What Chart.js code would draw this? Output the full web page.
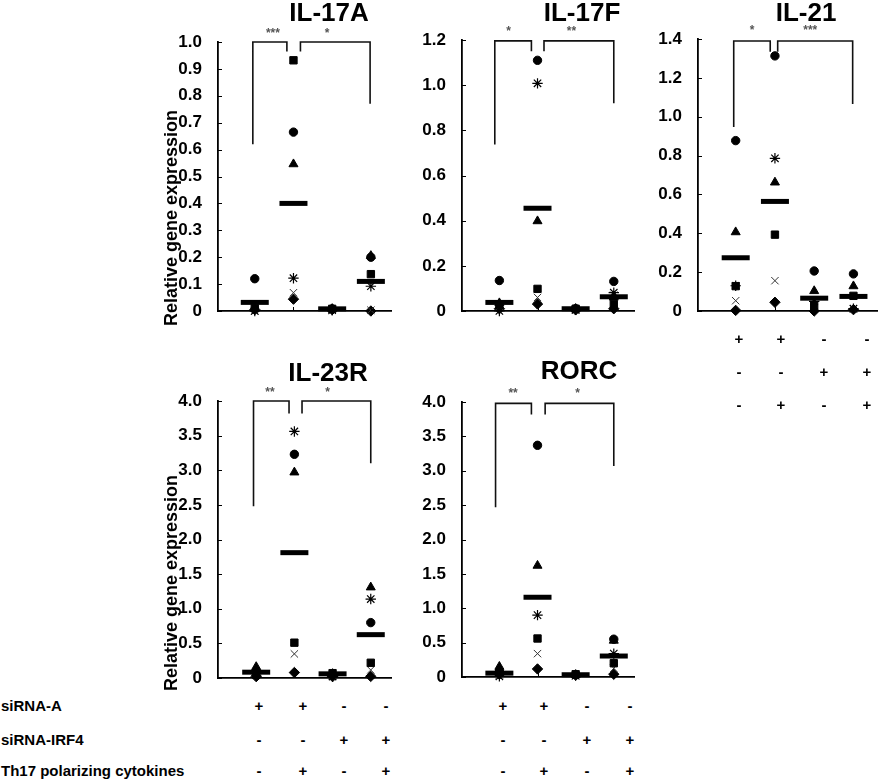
<!DOCTYPE html>
<html>
<head>
<meta charset="utf-8">
<script src="https://cdn.jsdelivr.net/npm/chart.js@4.4.1/dist/chart.umd.min.js"></script>
<style>
  html, body { margin:0; padding:0; background:#fff; }
  body { width:896px; height:783px; position:relative; overflow:hidden; font-family:'Liberation Sans', Arial, sans-serif; }
  canvas { position:absolute; }
  .lbl { position:absolute; font-weight:bold; font-size:15px; color:#000; white-space:nowrap; line-height:1; }
  .sgn { position:absolute; font-weight:bold; font-size:15px; color:#000; width:20px; text-align:center; line-height:1; }
</style>
</head>
<body>
<script>
// ---------- data ----------
const groups = [1, 2, 3, 4];

const IL17A_circle   = [0.12, 0.665, 0.008, 0.20];
const IL17A_square   = [0.01, 0.932, 0.008, 0.137];
const IL17A_triangle = [0.01, 0.546, 0.008, 0.205];
const IL17A_star     = [0.0, 0.122, 0.003, 0.092];
const IL17A_cross    = [0.0, 0.068, 0.003, 0.003];
const IL17A_diamond  = [0.005, 0.044, 0.005, 0.0];
const IL17A_mean     = [0.032, 0.40, 0.008, 0.11];

const IL17F_circle   = [0.135, 1.11, 0.01, 0.131];
const IL17F_square   = [0.03, 0.098, 0.01, 0.031];
const IL17F_triangle = [0.035, 0.398, 0.01, 0.06];
const IL17F_star     = [0.0, 1.008, 0.005, 0.081];
const IL17F_cross    = [0.02, 0.06, 0.005, 0.07];
const IL17F_diamond  = [0.01, 0.031, 0.005, 0.01];
const IL17F_mean     = [0.038, 0.455, 0.01, 0.063];

const IL21_circle   = [0.877, 1.313, 0.206, 0.191];
const IL21_square   = [0.128, 0.393, 0.028, 0.078];
const IL21_triangle = [0.406, 0.662, 0.103, 0.128];
const IL21_star     = [0.13, 0.786, 0.05, 0.012];
const IL21_cross    = [0.053, 0.156, 0.03, 0.012];
const IL21_diamond  = [0.003, 0.045, 0.0, 0.007];
const IL21_mean     = [0.274, 0.564, 0.066, 0.075];

const IL23R_circle   = [0.10, 3.23, 0.05, 0.80];
const IL23R_square   = [0.06, 0.51, 0.07, 0.22];
const IL23R_triangle = [0.16, 2.97, 0.06, 1.31];
const IL23R_star     = [0.04, 3.56, 0.02, 1.14];
const IL23R_cross    = [0.05, 0.348, 0.03, 0.116];
const IL23R_diamond  = [0.02, 0.079, 0.02, 0.023];
const IL23R_mean     = [0.084, 1.81, 0.06, 0.626];

const RORC_circle   = [0.08, 3.37, 0.03, 0.55];
const RORC_square   = [0.06, 0.56, 0.04, 0.20];
const RORC_triangle = [0.15, 1.62, 0.03, 0.53];
const RORC_star     = [0.01, 0.90, 0.02, 0.34];
const RORC_cross    = [0.03, 0.34, 0.02, 0.127];
const RORC_diamond  = [0.04, 0.117, 0.03, 0.04];
const RORC_mean     = [0.056, 1.16, 0.033, 0.305];

// significance brackets (data coordinates)
const IL17A_brL = { x:[0.95,0.95,1.83,1.83], y:[0.62,1.0,1.0,0.965] };
const IL17A_brR = { x:[2.18,2.18,3.98,3.98], y:[0.965,1.0,1.0,0.77] };
const IL17A_sig = { x:[1.47, 2.87], text:['***','*'] };

const IL17F_brL = { x:[0.88,0.88,1.84,1.84], y:[0.737,1.196,1.196,1.15] };
const IL17F_brR = { x:[2.17,2.17,4.0,4.0], y:[1.15,1.196,1.196,0.92] };
const IL17F_sig = { x:[1.24, 2.89], text:['*','**'] };

const IL21_brL = { x:[0.95,0.95,1.88,1.88], y:[0.947,1.39,1.39,1.335] };
const IL21_brR = { x:[2.07,2.07,3.98,3.98], y:[1.335,1.39,1.39,1.066] };
const IL21_sig = { x:[1.42, 2.9], text:['*','***'] };

const IL23R_brL = { x:[0.93,0.93,1.86,1.86], y:[2.48,4.0,4.0,3.82] };
const IL23R_brR = { x:[2.2,2.2,4.0,4.0], y:[3.82,4.0,4.0,3.1] };
const IL23R_sig = { x:[1.36, 2.87], text:['**','*'] };

const RORC_brL = { x:[0.9,0.9,1.84,1.84], y:[2.47,3.98,3.98,3.82] };
const RORC_brR = { x:[2.2,2.2,4.0,4.0], y:[3.82,3.98,3.98,3.07] };
const RORC_sig = { x:[1.36, 3.05], text:['**','*'] };

// condition table
const rowLabels = ['siRNA-A', 'siRNA-IRF4', 'Th17 polarizing cytokines'];
const siRNA_A    = ['+', '+', '-', '-'];
const siRNA_IRF4 = ['-', '-', '+', '+'];
const Th17_cyt   = ['-', '+', '-', '+'];

// ---------- layout ----------
const FONT = "'Liberation Sans', Arial, sans-serif";
const panels = [
  { title:'IL-17A', d:[IL17A_circle,IL17A_square,IL17A_triangle,IL17A_star,IL17A_cross,IL17A_diamond,IL17A_mean], brL:IL17A_brL, brR:IL17A_brR, sig:IL17A_sig,
    yMax:1.0, step:0.1, xMin:0.05, xMax:4.52, L:218, R:407, T:42, B:320, top:0, titleX:329, titleY:14, ytitle:{x:172,y:218} },
  { title:'IL-17F', d:[IL17F_circle,IL17F_square,IL17F_triangle,IL17F_star,IL17F_cross,IL17F_diamond,IL17F_mean], brL:IL17F_brL, brR:IL17F_brR, sig:IL17F_sig,
    yMax:1.2, step:0.2, xMin:0.02, xMax:4.53, L:462, R:650, T:40, B:320, top:0, titleX:582, titleY:14 },
  { title:'IL-21', d:[IL21_circle,IL21_square,IL21_triangle,IL21_star,IL21_cross,IL21_diamond,IL21_mean], brL:IL21_brL, brR:IL21_brR, sig:IL21_sig,
    yMax:1.4, step:0.2, xMin:0.04, xMax:4.6, L:698, R:893, T:39, B:320, top:0, titleX:806, titleY:14 },
  { title:'IL-23R', d:[IL23R_circle,IL23R_square,IL23R_triangle,IL23R_star,IL23R_cross,IL23R_diamond,IL23R_mean], brL:IL23R_brL, brR:IL23R_brR, sig:IL23R_sig,
    yMax:4.0, step:0.5, xMin:0.0, xMax:4.53, L:218, R:407, T:401, B:687, top:340, titleX:328, titleY:374, ytitle:{x:172,y:583} },
  { title:'RORC', d:[RORC_circle,RORC_square,RORC_triangle,RORC_star,RORC_cross,RORC_diamond,RORC_mean], brL:RORC_brL, brR:RORC_brR, sig:RORC_sig,
    yMax:4.0, step:0.5, xMin:0.02, xMax:4.53, L:462, R:650, T:402, B:686, top:340, titleX:579, titleY:372 }
];

const markerStyles = [
  { pointStyle:'circle',   radius:4.2, fill:'#000', border:'#000', bw:1 },
  { pointStyle:'rect',     radius:5.2, fill:'#000', border:'#000', bw:1 },
  { pointStyle:'triangle', radius:5.2, fill:'#000', border:'#000', bw:1 },
  { pointStyle:'star',     radius:5.2, fill:'#000', border:'#000', bw:1.2 },
  { pointStyle:'crossRot', radius:5.2, fill:'#333', border:'#333', bw:1 },
  { pointStyle:'rectRot',  radius:5.2, fill:'#000', border:'#000', bw:1 }
];

const YW = 60;
panels.forEach((p, idx) => {
  const cLeft = p.L - YW;
  const cTop = p.top;
  const cW = p.R + 3 - cLeft;
  const cH = p.B + 10 - cTop;
  const cv = document.createElement('canvas');
  cv.width = cW; cv.height = cH;
  cv.style.left = cLeft + 'px'; cv.style.top = cTop + 'px';
  cv.style.width = cW + 'px'; cv.style.height = cH + 'px';
  document.body.appendChild(cv);

  const ds = [];
  // mean bars first so they draw on top
  ds.push({ type:'scatter', data: groups.map((g,i)=>({x:g, y:p.d[6][i]})),
    pointStyle:'line', pointRadius:14, pointBorderWidth:5, pointBorderColor:'#000', pointBackgroundColor:'#000', showLine:false, clip:false });
  markerStyles.forEach((m, k) => {
    ds.push({ type:'scatter', data: groups.map((g,i)=>({x:g, y:p.d[k][i]})),
      pointStyle:m.pointStyle, pointRadius:m.radius, pointBackgroundColor:m.fill, pointBorderColor:m.border,
      pointBorderWidth:m.bw, showLine:false, clip:false });
  });
  [p.brL, p.brR].forEach(br => {
    ds.push({ type:'scatter', data: br.x.map((x,i)=>({x:x, y:br.y[i]})), showLine:true,
      borderColor:'#111', borderWidth:1.6, pointRadius:0, fill:false, clip:false, tension:0 });
  });

  const deco = {
    id:'deco'+idx,
    afterDraw(chart) {
      const ctx = chart.ctx;
      const xs = chart.scales.x, ys = chart.scales.y;
      const ca = chart.chartArea;
      ctx.save();
      // inward tick marks
      ctx.strokeStyle = '#000';
      ctx.lineWidth = 1;
      ctx.beginPath();
      ys.ticks.forEach(t => {
        const py = Math.round(ys.getPixelForValue(t.value)) + 0.5;
        ctx.moveTo(ca.left, py); ctx.lineTo(ca.left + 4, py);
      });
      groups.forEach(g => {
        const px = Math.round(xs.getPixelForValue(g)) + 0.5;
        ctx.moveTo(px, ca.bottom); ctx.lineTo(px, ca.bottom - 4);
      });
      ctx.stroke();

      ctx.fillStyle = '#000';
      ctx.textAlign = 'center';
      ctx.textBaseline = 'middle';
      ctx.font = 'bold 26px ' + FONT;
      ctx.fillText(p.title, p.titleX - cLeft, p.titleY - cTop);
      // significance labels
      ctx.fillStyle = '#555';
      ctx.font = 'bold 12px ' + FONT;
      p.sig.text.forEach((t,i) => {
        ctx.fillText(t, xs.getPixelForValue(p.sig.x[i]), ys.getPixelForValue(p.yMax) - 8);
      });
      if (p.ytitle) {
        ctx.fillStyle = '#000';
        ctx.font = 'bold 18px ' + FONT;
        ctx.translate(p.ytitle.x - cLeft, p.ytitle.y - cTop);
        ctx.rotate(-Math.PI/2);
        ctx.fillText('Relative gene expression', 0, 0);
      }
      ctx.restore();
    }
  };

  new Chart(cv, {
    type:'scatter',
    data:{ datasets: ds },
    options:{
      responsive:false, animation:false, devicePixelRatio:1,
      layout:{ padding:{ left:0, right:3, top:p.T - cTop, bottom:10 } },
      plugins:{ legend:{display:false}, tooltip:{enabled:false}, title:{display:false} },
      scales:{
        x:{ type:'linear', min:p.xMin, max:p.xMax,
            ticks:{ display:false },
            grid:{ display:false },
            border:{ display:true, color:'#000', width:1.8 },
            afterBuildTicks:(s)=>{ s.ticks = groups.map(v=>({value:v})); },
            afterFit:(s)=>{ s.height = 0; } },
        y:{ type:'linear', min:0, max:p.yMax,
            ticks:{ stepSize:p.step, color:'#000', padding:8, font:{ family:FONT, size:17, weight:'bold' },
                    callback:(v)=> Math.abs(v) < 1e-9 ? '0' : Number(v).toFixed(1) },
            grid:{ display:false },
            border:{ display:true, color:'#000', width:1.8 },
            afterFit:(s)=>{ s.width = YW; } }
      }
    },
    plugins:[deco]
  });
});

// ---------- condition table ----------
function addText(cls, txt, x, y) {
  const d = document.createElement('div');
  d.className = cls; d.textContent = txt;
  d.style.left = x + 'px'; d.style.top = y + 'px';
  document.body.appendChild(d);
}
const rows = [siRNA_A, siRNA_IRF4, Th17_cyt];
const rowY = [698, 732, 763];
rowLabels.forEach((t,i) => addText('lbl', t, 1, rowY[i]));
const bottomX = [[259,303,344,386],[503,544,587,630]];
bottomX.forEach(xs => {
  rows.forEach((r, ri) => r.forEach((s, ci) => addText('sgn', s, xs[ci]-10, rowY[ri])));
});
const il21X = [739,781,824,867];
const il21Y = [331, 364, 397];
rows.forEach((r, ri) => r.forEach((s, ci) => addText('sgn', s, il21X[ci]-10, il21Y[ri])));
</script>
</body>
</html>
